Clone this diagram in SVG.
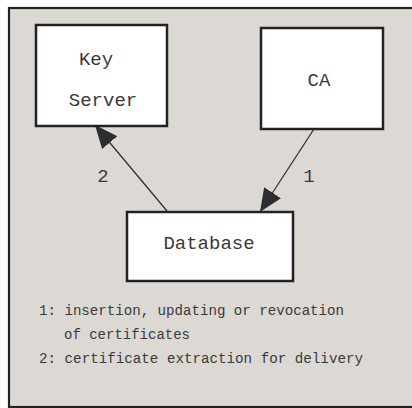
<svg xmlns="http://www.w3.org/2000/svg" width="412" height="408" viewBox="0 0 412 408">
<style>
.box{fill:#ffffff;stroke:#222222;stroke-width:2.5}
.lbl{font-family:"Liberation Mono","DejaVu Sans Mono",monospace;font-size:19px;fill:#3a3a3a}
.num{font-family:"Liberation Mono","DejaVu Sans Mono",monospace;font-size:19px;fill:#3a3a3a;text-anchor:middle}
.leg{font-family:"Liberation Mono","DejaVu Sans Mono",monospace;font-size:14px;fill:#3a3a3a}
.conn{stroke:#2a2a2a;stroke-width:1.2;fill:none}
</style>
<defs>
<marker id="ah" markerUnits="userSpaceOnUse" viewBox="0 -10 23 20" markerWidth="23" markerHeight="20" refX="23" refY="0" orient="auto">
<path d="M0,-10 L23,0 L0,10 z" fill="#2e2e30"/>
</marker>
</defs>
<rect x="0" y="0" width="412" height="408" fill="#ffffff"/>
<rect x="9" y="8" width="420" height="399" fill="#dcd8d4" stroke="#222222" stroke-width="2.2"/>
<g id="connectors">
<line class="conn" x1="167" y1="211" x2="95" y2="125" marker-end="url(#ah)"/>
<line class="conn" x1="314" y1="129" x2="260" y2="212" marker-end="url(#ah)"/>
<text class="num" x="103" y="182">2</text>
<text class="num" x="309" y="182">1</text>
</g>
<g id="key-server">
<rect class="box" x="36" y="25" width="131" height="101"/>
<text class="lbl" x="96" y="65" text-anchor="middle">Key</text>
<text class="lbl" x="103" y="106" text-anchor="middle">Server</text>
</g>
<g id="ca">
<rect class="box" x="261" y="28" width="122" height="101"/>
<text class="lbl" x="319" y="86" text-anchor="middle">CA</text>
</g>
<g id="database">
<rect class="box" x="127" y="212" width="166" height="69"/>
<text class="lbl" x="209" y="249" text-anchor="middle">Database</text>
</g>
<g id="legend">
<text class="leg" x="39" y="315" textLength="305" lengthAdjust="spacingAndGlyphs">1: insertion, updating or revocation</text>
<text class="leg" x="64" y="339">of certificates</text>
<text class="leg" x="39" y="363" textLength="324" lengthAdjust="spacingAndGlyphs">2: certificate extraction for delivery</text>
</g>
</svg>
